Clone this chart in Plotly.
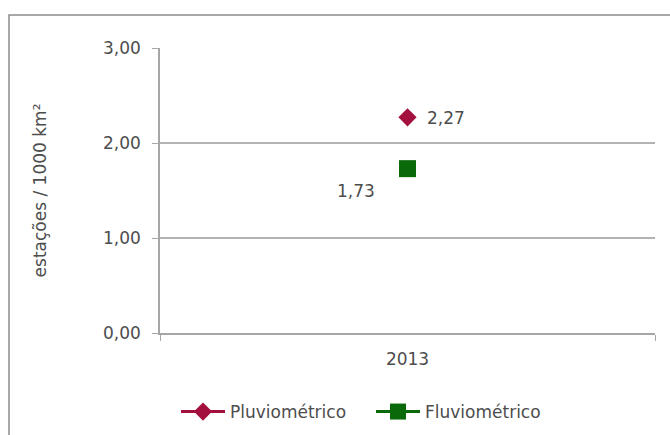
import plotly.graph_objects as go

categories = ["2013"]
pluvio = [2.27]
fluvio = [1.73]
pluvio_labels = ["2,27"]
fluvio_labels = ["1,73"]
ytick_vals = [0, 1, 2, 3]
ytick_text = ["0,00", "1,00", "2,00", "3,00"]

FONT = "DejaVu Sans, Arial, sans-serif"
TXT = "#4d4d4d"
FS = 17

fig = go.Figure()
fig.add_trace(go.Scatter(
    x=categories, y=pluvio, name="Pluviométrico", mode="lines+markers",
    line=dict(color="#A3103D", width=3),
    marker=dict(symbol="diamond", size=14, color="#A3103D"),
))
fig.add_trace(go.Scatter(
    x=categories, y=fluvio, name="Fluviométrico", mode="lines+markers",
    line=dict(color="#0A6A0A", width=3),
    marker=dict(symbol="square", size=17, color="#0A6A0A"),
))

for c, v, t in zip(categories, pluvio, pluvio_labels):
    fig.add_annotation(x=categories.index(c), y=v, text=t, showarrow=False,
                       xanchor="left", yanchor="middle", xshift=17, yshift=-1,
                       font=dict(family=FONT, size=FS, color=TXT))
for c, v, t in zip(categories, fluvio, fluvio_labels):
    fig.add_annotation(x=categories.index(c), y=v, text=t, showarrow=False,
                       xanchor="right", yanchor="middle", xshift=-31, yshift=-22,
                       font=dict(family=FONT, size=FS, color=TXT))

# outer chart frame
fig.add_shape(type="rect", xref="paper", yref="paper",
              x0=(9 - 160) / 495, x1=1.2, y0=-0.6, y1=1 + (48 - 15) / 285,
              line=dict(color="#8c8c8c", width=1.5), layer="below")

fig.update_layout(
    width=670, height=435,
    margin=dict(l=160, r=15, t=48, b=102, autoexpand=False),
    paper_bgcolor="white", plot_bgcolor="white",
    font=dict(family=FONT, size=FS, color=TXT),
    showlegend=True,
    legend=dict(orientation="h", xref="container", yref="container",
                x=176 / 670, xanchor="left", y=1 - 412 / 435, yanchor="middle",
                itemwidth=44, entrywidth=136, entrywidthmode="pixels",
                font=dict(size=FS, color=TXT), tracegroupgap=0),
    xaxis=dict(type="category", range=[-0.5, 0.5], showgrid=False,
               showline=True, linecolor="#a6a6a6", linewidth=1.5,
               ticks="outside", tickson="boundaries", ticklen=6,
               tickcolor="#a6a6a6", tickfont=dict(size=FS, color=TXT),
               ticklabelstandoff=10, fixedrange=True, automargin=False),
    yaxis=dict(range=[0, 3], tickvals=ytick_vals, ticktext=ytick_text,
               showgrid=True, gridcolor="#b3b3b3", gridwidth=1.5,
               showline=True, linecolor="#a6a6a6", linewidth=1.5,
               ticks="outside", ticklen=6, tickcolor="#a6a6a6",
               ticklabelstandoff=8, automargin=False,
               tickfont=dict(size=FS, color=TXT), zeroline=False,
               title=dict(text="estações / 1000 km²", standoff=52,
                          font=dict(size=FS, color=TXT))),
)

fig.write_html("out.html", config={"displayModeBar": False},
               post_script="document.body.style.margin='0';")
